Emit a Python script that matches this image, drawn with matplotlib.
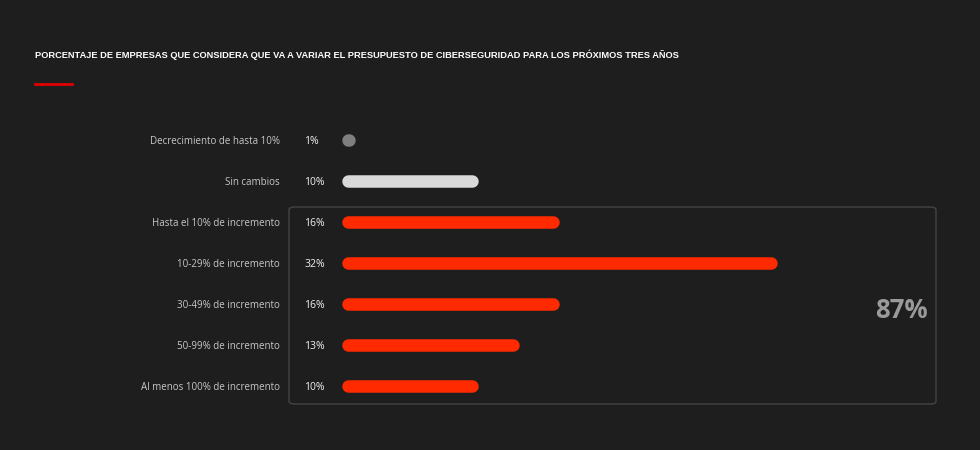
import matplotlib.pyplot as plt
from matplotlib.patches import FancyBboxPatch
from matplotlib.transforms import blended_transform_factory

categories = ['Decrecimiento de hasta 10%', 'Sin cambios', 'Hasta el 10% de incremento',
              '10-29% de incremento', '30-49% de incremento', '50-99% de incremento',
              'Al menos 100% de incremento']
values = [1, 10, 16, 32, 16, 13, 10]
value_labels = ['1%', '10%', '16%', '32%', '16%', '13%', '10%']
bar_colors = ['#7f7f7f', '#d9d9d9', '#ff2a00', '#ff2a00', '#ff2a00', '#ff2a00', '#ff2a00']
total_label = '87%'
title = 'PORCENTAJE DE EMPRESAS QUE CONSIDERA QUE VA A VARIAR EL PRESUPUESTO DE CIBERSEGURIDAD PARA LOS PRÓXIMOS TRES AÑOS'

W, H = 980, 450
bg = '#1e1e1e'
fig = plt.figure(figsize=(W / 100, H / 100), dpi=100, facecolor=bg)

# axes: x in percent, 13.6 px per percent, rows 41 px apart
px_per_pct = 13.6
ax_left, ax_top = 342, 119.5
n = len(categories)
ax = fig.add_axes([ax_left / W, 1 - (ax_top + 41 * n) / H, 50 * px_per_pct / W, 41 * n / H])
ax.set_xlim(0, 50)
ax.set_ylim(n - 0.5, -0.5)
ax.axis('off')

# rounded box around the increase rows
box = FancyBboxPatch((289 / W, 1 - 404 / H), (936 - 289) / W, (404 - 207) / H,
                     boxstyle='round,pad=0,rounding_size=0.006', transform=fig.transFigure,
                     facecolor='none', edgecolor='#444444', lw=1.0)
fig.patches.append(box)

bar_px = 12.5
cap = (bar_px / 2) / px_per_pct
for i, (v, c) in enumerate(zip(values, bar_colors)):
    ax.plot([cap, max(v - cap, cap + 0.01)], [i, i], color=c, lw=bar_px * 0.72,
            solid_capstyle='round')

lab_tr = blended_transform_factory(fig.transFigure, ax.transData)
for i, (cat, lab) in enumerate(zip(categories, value_labels)):
    ax.text(280 / W, i, cat, transform=lab_tr, ha='right', va='center_baseline',
            fontsize=7, color='#c8c8c8', family='Open Sans', clip_on=False)
    ax.text(304 / W, i, lab, transform=lab_tr, ha='left', va='center_baseline',
            fontsize=7.5, color='#f0f0f0', family='Open Sans', clip_on=False)

fig.text(928 / W, 1 - 307 / H, total_label, ha='right', va='center_baseline', fontsize=18.5,
         fontweight='bold', color='#9a9a9a', family='Open Sans')

fig.text(35 / W, 1 - 54 / H, title, ha='left', va='center_baseline', fontsize=6.7,
         fontweight='bold', color='white',
         family=['Liberation Sans Narrow', 'Liberation Sans', 'DejaVu Sans'])
fig.add_artist(plt.Line2D([35 / W, 72 / W], [1 - 84 / H, 1 - 84 / H],
                          transform=fig.transFigure, color='#e00000', lw=2))

plt.savefig('out.png', dpi=100, facecolor=bg)
